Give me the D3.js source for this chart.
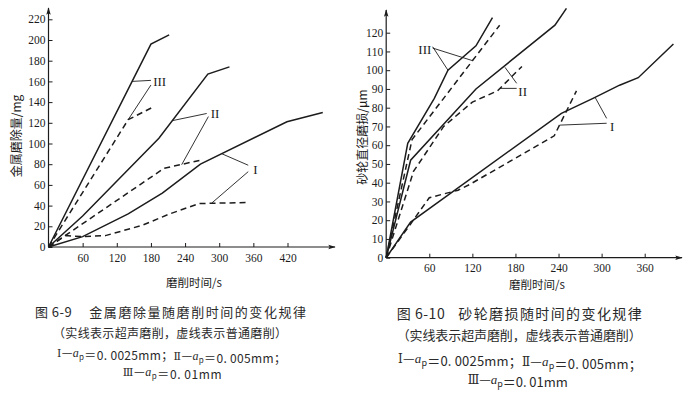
<!DOCTYPE html>
<html>
<head>
<meta charset="utf-8">
<script src="https://cdn.jsdelivr.net/npm/d3@7"></script>
<style>
  body { margin: 0; background: #fff; }
  svg { display: block; }
</style>
</head>
<body>
<div id="chart"></div>
<script>
// ---------- data: [磨削时间 s, value] ----------
const leftXTicks = [60, 120, 180, 240, 300, 360, 420];
const leftYTicks = [0, 20, 40, 60, 80, 100, 120, 140, 160, 180, 200, 220];
const rightXTicks = [60, 120, 180, 240, 300, 360];
const rightYTicks = [0, 10, 20, 30, 40, 50, 60, 70, 80, 90, 100, 110, 120];

// 图 6-9 金属磨除量 (mg)
const removalI = [[0, 0], [60, 10], [140, 32], [200, 52], [267, 80], [419, 121], [482, 130]];
const removalIDash = [[0, 0], [30, 11], [60, 10], [100, 11], [165, 21], [213, 32], [265, 42], [349, 43]];
const removalII = [[0, 0], [60, 30], [194, 105], [280, 167], [318, 174]];
const removalIIDash = [[0, 0], [203, 76], [268, 84]];
const removalIII = [[0, 0], [180, 196], [212, 205]];
const removalIIIDash = [[0, 0], [140, 123], [183, 135]];

// 图 6-10 砂轮直径磨损 (μm)
const wearI = [[0, 0], [34, 19], [244, 77], [288, 85], [325, 92], [351, 96], [400, 114]];
const wearIDash = [[0, 0], [34, 18], [60, 32], [100, 36], [116, 39], [234, 65], [265, 89]];
const wearII = [[0, 0], [34, 52], [125, 90], [235, 124], [251, 133]];
const wearIIDash = [[0, 0], [38, 46], [80, 70], [120, 83], [155, 89], [189, 102]];
const wearIII = [[0, 0], [30, 61], [67, 85], [86, 100], [125, 113], [148, 128]];
const wearIIIDash = [[0, 0], [36, 63], [120, 105], [158, 124]];

// curve labels: text, label start point, leader lines (all in data units)
const removalLabels = [
  { text: "III", at: [184, 159.7], leaders: [[[147, 160], [180, 161]], [[140, 123], [180, 156.5]]] },
  { text: "II", at: [285, 129], leaders: [[[217, 122], [278, 129]], [[234, 79.5], [281, 126]]] },
  { text: "I", at: [360, 75], leaders: [[[305, 90], [351, 79]], [[287, 42.5], [351, 72.8]]] }
];
const wearLabels = [
  { text: "III", at: [44.7, 111], leaders: [[[64.7, 112.5], [86, 100]], [[64.7, 111.8], [121, 105]]] },
  { text: "II", at: [184, 88.5], leaders: [[[165.5, 101.5], [181.7, 93]], [[158.5, 90.3], [181.7, 90.3]]] },
  { text: "I", at: [311.7, 70.2], leaders: [[[290.8, 85.6], [307, 74.3]], [[241.4, 70.7], [307, 71.7]]] }
];

const ink = "#1c1c1c";
const serif = "'Liberation Serif', 'DejaVu Serif', serif";
const cjk = "'Noto Sans CJK SC', 'Noto Sans', sans-serif";

const svg = d3.select("#chart").append("svg")
  .attr("width", 690).attr("height", 396)
  .attr("viewBox", "0 0 690 396");

svg.append("rect").attr("width", 690).attr("height", 396).attr("fill", "#fff");

svg.append("defs").append("marker")
  .attr("id", "arrow")
  .attr("viewBox", "0 -4 10 8")
  .attr("refX", 9).attr("refY", 0)
  .attr("markerUnits", "userSpaceOnUse")
  .attr("markerWidth", 9).attr("markerHeight", 6)
  .attr("orient", "auto")
  .append("path")
  .attr("d", "M0,-3L10,0L0,3L2,0Z")
  .attr("fill", ink);

function drawPanel(cfg) {
  const { x, y } = cfg;
  const g = svg.append("g");

  // axes with arrows
  g.append("line")
    .attr("x1", x(0)).attr("y1", y(0)).attr("x2", cfg.xEnd).attr("y2", y(0))
    .attr("stroke", ink).attr("stroke-width", 1.2).attr("marker-end", "url(#arrow)");
  g.append("line")
    .attr("x1", x(0)).attr("y1", y(0)).attr("x2", x(0)).attr("y2", cfg.yEnd)
    .attr("stroke", ink).attr("stroke-width", 1.2).attr("marker-end", "url(#arrow)");

  const yAxis = g.append("g")
    .attr("transform", `translate(${x(0)},0)`)
    .call(d3.axisLeft(y).tickValues(cfg.yTicks).tickSize(-4).tickPadding(3));
  const xAxis = g.append("g")
    .attr("transform", `translate(0,${y(0)})`)
    .call(d3.axisBottom(x).tickValues(cfg.xTicks).tickSize(-4).tickPadding(cfg.xPad));

  [yAxis, xAxis].forEach(a => {
    a.select(".domain").remove();
    a.selectAll("line").attr("stroke", ink).attr("stroke-width", 1);
    a.selectAll("text")
      .attr("fill", ink)
      .style("font-family", serif)
      .style("font-size", "11.5px");
  });

  const line = d3.line().x(d => x(d[0])).y(d => y(d[1]));

  cfg.series.forEach(s => {
    g.append("path")
      .attr("d", line(s.values))
      .attr("fill", "none")
      .attr("stroke", ink)
      .attr("stroke-width", 1.5)
      .attr("stroke-linejoin", "miter")
      .attr("stroke-dasharray", s.dashed ? "6,4" : null);
  });

  cfg.labels.forEach(l => {
    l.leaders.forEach(seg => {
      g.append("path")
        .attr("d", line(seg))
        .attr("fill", "none")
        .attr("stroke", ink)
        .attr("stroke-width", 0.9);
    });
    g.append("text")
      .attr("x", x(l.at[0])).attr("y", y(l.at[1]))
      .attr("dominant-baseline", "central")
      .attr("fill", ink)
      .style("font-family", serif)
      .style("font-size", "13px")
      .text(l.text);
  });

  // axis titles
  g.append("text")
    .attr("transform", `translate(${cfg.yTitlePos[0]},${cfg.yTitlePos[1]}) rotate(-90)`)
    .attr("text-anchor", "middle")
    .attr("dominant-baseline", "central")
    .attr("fill", ink)
    .style("font-family", cjk)
    .style("font-size", "12px")
    .text(cfg.yTitle);
  g.append("text")
    .attr("x", cfg.xTitlePos[0]).attr("y", cfg.xTitlePos[1])
    .attr("text-anchor", "middle")
    .attr("fill", ink)
    .style("font-family", cjk)
    .style("font-size", "11.5px")
    .text(cfg.xTitle);
}

drawPanel({
  x: d3.scaleLinear().domain([0, 420]).range([48.5, 287.5]),
  y: d3.scaleLinear().domain([0, 220]).range([247, 19.3]),
  xEnd: 335, yEnd: 8, xPad: 7,
  xTicks: leftXTicks, yTicks: leftYTicks,
  series: [
    { values: removalI }, { values: removalIDash, dashed: true },
    { values: removalII }, { values: removalIIDash, dashed: true },
    { values: removalIII }, { values: removalIIIDash, dashed: true }
  ],
  labels: removalLabels,
  yTitle: "金属磨除量/mg", yTitlePos: [15, 136],
  xTitle: "磨削时间/s", xTitlePos: [194, 287]
});

drawPanel({
  x: d3.scaleLinear().domain([0, 360]).range([386.2, 644.7]),
  y: d3.scaleLinear().domain([0, 120]).range([257.7, 32.7]),
  xEnd: 682, yEnd: 10, xPad: 6.5,
  xTicks: rightXTicks, yTicks: rightYTicks,
  series: [
    { values: wearI }, { values: wearIDash, dashed: true },
    { values: wearII }, { values: wearIIDash, dashed: true },
    { values: wearIII }, { values: wearIIIDash, dashed: true }
  ],
  labels: wearLabels,
  yTitle: "砂轮直径磨损/μm", yTitlePos: [361, 137],
  xTitle: "磨削时间/s", xTitlePos: [537, 289]
});

// ---------- captions ----------
function capLine(x, y, width, size, parts) {
  const t = svg.append("text")
    .attr("x", x).attr("y", y)
    .attr("fill", "#2a2a2a")
    .style("font-family", cjk)
    .style("font-size", size + "px");
  if (width) t.attr("textLength", width).attr("lengthAdjust", "spacing");
  parts.forEach(p => {
    if (typeof p === "string") {
      t.append("tspan").text(p);
    } else if (p.r) {
      // roman numeral in a serif face
      t.append("tspan").style("font-family", "'DejaVu Serif', serif").style("font-size", (size - 1) + "px").text(p.r);
    } else if (p.a) {
      t.append("tspan").style("font-family", serif).style("font-style", "italic").text("a");
      t.append("tspan").attr("dy", 3).style("font-size", (size - 4) + "px").text("p");
      t.append("tspan").attr("dy", -3).text("");
    }
  });
  return t;
}
const ap = { a: true };

// left caption
capLine(35, 317, 36.7, 13, ["图 6-9"]);
capLine(89.3, 317, 216.7, 13, ["金属磨除量随磨削时间的变化规律"]);
capLine(53, 337.5, 234, 12, ["（实线表示超声磨削，虚线表示普通磨削）"]);
capLine(57, 357, 229, 12, [{ r: "Ⅰ" }, "—", ap, "＝0. 0025mm；", { r: "Ⅱ" }, "—", ap, "＝0. 005mm；"]);
capLine(122.7, 376, 99, 12, [{ r: "Ⅲ" }, "—", ap, "＝0. 01mm"]);

// right caption
capLine(396.7, 318.5, 48, 14, ["图 6-10"]);
capLine(458.3, 318.5, 183.4, 14, ["砂轮磨损随时间的变化规律"]);
capLine(396.7, 340, 245, 13, ["（实线表示超声磨削，虚线表示普通磨削）"]);
capLine(398, 363, 243.7, 13, [{ r: "Ⅰ" }, "—", ap, "＝0. 0025mm；", { r: "Ⅱ" }, "—", ap, "＝0. 005mm；"]);
capLine(467.7, 384, 100, 13, [{ r: "Ⅲ" }, "—", ap, "＝0. 01mm"]);
</script>
</body>
</html>
